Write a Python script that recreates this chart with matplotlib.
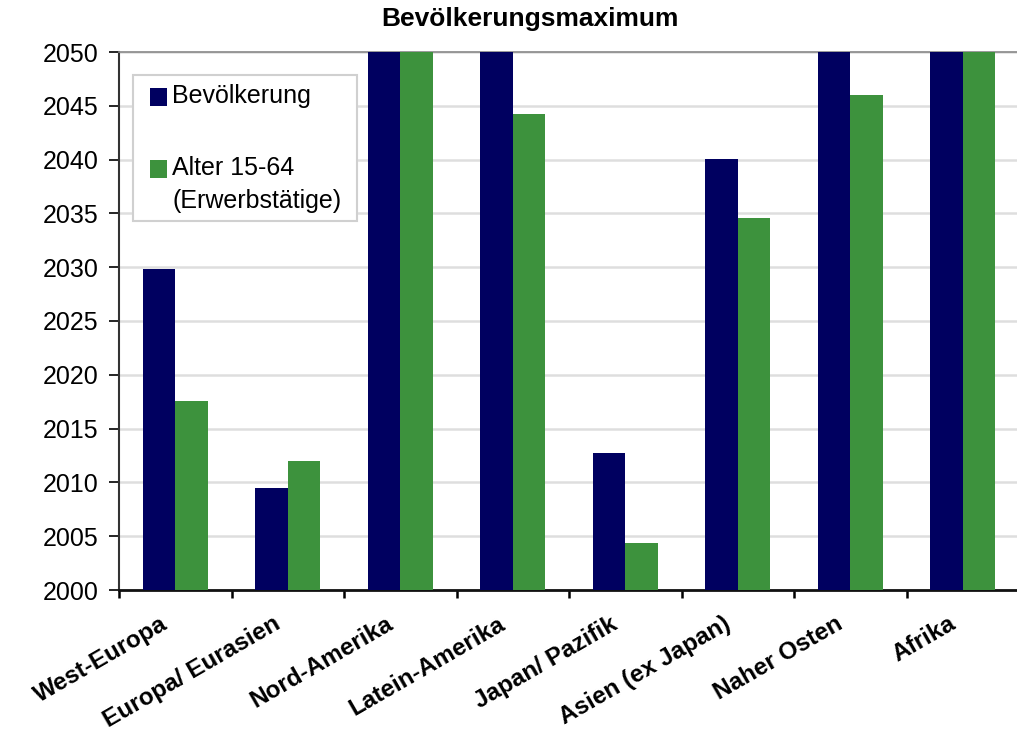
import numpy as np
import matplotlib
matplotlib.use("Agg")
import matplotlib.pyplot as plt
import matplotlib.transforms as mtransforms
from matplotlib.patches import Rectangle

plt.rcParams["font.family"] = ["Liberation Sans", "DejaVu Sans"]

regions = ["West-Europa", "Europa/ Eurasien", "Nord-Amerika", "Latein-Amerika",
           "Japan/ Pazifik", "Asien (ex Japan)", "Naher Osten", "Afrika"]
bevoelkerung = [2029.8, 2009.5, 2050, 2050, 2012.7, 2040.1, 2050, 2050]
erwerbstaetige = [2017.6, 2012.0, 2050, 2044.2, 2004.4, 2034.6, 2046.0, 2050]
series_labels = ["Bevölkerung", "Alter 15-64", "(Erwerbstätige)"]
y_ticks = np.arange(2000, 2051, 5)

c_navy = "#000060"
c_green = "#3d923d"

W, H = 1017, 737
ax_l, ax_b, ax_w, ax_h = 119, 590, 900, 538   # pixels

fig = plt.figure(figsize = (W/100, H/100), dpi = 100)
ax = fig.add_axes([ax_l/W, 1 - ax_b/H, ax_w/W, ax_h/H])

def px(xp, yp) :
    # pixel position (from top left) -> axes fraction
    return (xp - ax_l) / ax_w, (ax_b - yp) / ax_h

x = np.arange(len(regions))
w = 0.29
ax.bar(x - w/2, bevoelkerung, width = w, color = c_navy, zorder = 3)
ax.bar(x + w/2, erwerbstaetige, width = w, color = c_green, zorder = 3)

ax.set_ylim(2000, 2050)
ax.set_xlim(-0.5, len(regions) - 0.5)
ax.set_yticks(y_ticks)
ax.yaxis.grid(True, color = "#dedede", lw = 1.8, zorder = 0)
ax.set_axisbelow(True)

# category boundaries as ticks, names on minor ticks
ax.set_xticks(np.arange(len(regions) + 1) - 0.5)
ax.set_xticklabels([])
ax.set_xticks(x, minor = True)
ax.set_xticklabels(regions, minor = True, rotation = 30, ha = "right",
    rotation_mode = "anchor", fontsize = 17.5, fontweight = "bold")
ax.tick_params(axis = "x", which = "minor", length = 0, pad = 16)
shift = mtransforms.ScaledTranslation(-0.15, 0, fig.dpi_scale_trans)
for lbl in ax.get_xticklabels(minor = True) :
    lbl.set_transform(lbl.get_transform() + shift)
ax.tick_params(axis = "x", which = "major", length = 6, width = 1.8, direction = "out")
ax.tick_params(axis = "y", which = "major", length = 7, width = 1.2, labelsize = 18,
    direction = "out", pad = 8)

ax.spines["left"].set_color("#333333")
ax.spines["left"].set_linewidth(1.5)
ax.spines["bottom"].set_color("#111111")
ax.spines["bottom"].set_linewidth(2)
ax.spines["top"].set_color("#888888")
ax.spines["top"].set_linewidth(1.2)
ax.spines["right"].set_visible(False)

fig.text(530/W, 1 - 19/H, "Bevölkerungsmaximum", fontsize = 19, fontweight = "bold",
    ha = "center", va = "center")

# legend box drawn by hand (second label's swatch sits on its first line)
x0, y0 = px(133, 221)
x1, y1 = px(357, 75)
ax.add_patch(Rectangle((x0, y0), x1 - x0, y1 - y0, transform = ax.transAxes,
    facecolor = "white", edgecolor = "#d0d0d0", lw = 1.5, zorder = 5))
sw = 17 / ax_w
sh = 17 / ax_h
for col, yc in [(c_navy, 97), (c_green, 169)] :
    sx, sy = px(150, yc + 8.5)
    ax.add_patch(Rectangle((sx, sy), sw, sh, transform = ax.transAxes,
        facecolor = col, edgecolor = "none", zorder = 6))
for lbl, yc in zip(series_labels, [96, 168, 201]) :
    tx, ty = px(172, yc)
    ax.text(tx, ty, lbl, transform = ax.transAxes, fontsize = 18,
        ha = "left", va = "center", zorder = 7)

fig.savefig("out.png", dpi = 100)
